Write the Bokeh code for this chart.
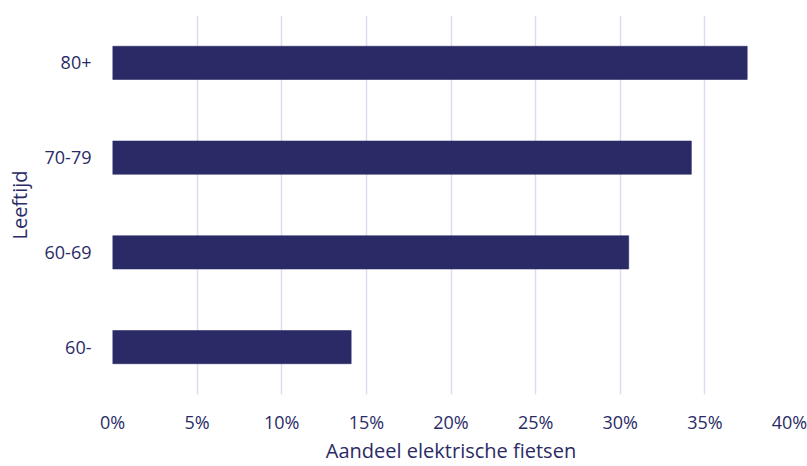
from bokeh.plotting import figure
from bokeh.models import ColumnDataSource, FixedTicker, PrintfTickFormatter, Range1d
from bokeh.embed import file_html
from bokeh.resources import INLINE

# Share of electric bicycles per age group (percent)
age_groups = ["60-", "60-69", "70-79", "80+"]
share_pct = [14.1, 30.5, 34.2, 37.5]
x_ticks = [0, 5, 10, 15, 20, 25, 30, 35, 40]
x_title = "Aandeel elektrische fietsen"
y_title = "Leeftijd"

NAVY = "#2A2B66"
GRID = "#DCDCF0"
FONT = "Open Sans"

source = ColumnDataSource(data=dict(age=age_groups, share=share_pct))

p = figure(
    y_range=age_groups,
    x_range=Range1d(0, 40),
    width=807, height=466,
    output_backend="svg",
    toolbar_location=None,
    min_border_left=112, min_border_right=18,
    min_border_top=15, min_border_bottom=69,
)
p.y_range.range_padding = 0

p.hbar(y="age", right="share", left=0, height=0.35, source=source,
       fill_color=NAVY, line_color=NAVY, line_width=1, line_alpha=0.6)

p.outline_line_color = None
p.background_fill_color = "white"
p.border_fill_color = "white"

# vertical grid only
p.ygrid.grid_line_color = None
p.xgrid.grid_line_color = GRID
p.xgrid.grid_line_width = 1.5
p.xaxis.ticker = FixedTicker(ticks=x_ticks)
p.xaxis.formatter = PrintfTickFormatter(format="%d%%")

for ax in (p.xaxis, p.yaxis):
    ax.axis_line_color = None
    ax.major_tick_line_color = None
    ax.minor_tick_line_color = None
    ax.major_tick_out = 0
    ax.major_tick_in = 0
    ax.minor_tick_out = 0
    ax.major_label_text_color = NAVY
    ax.major_label_text_font = FONT
    ax.major_label_text_font_size = "18px"
    ax.axis_label_text_color = NAVY
    ax.axis_label_text_font = FONT
    ax.axis_label_text_font_size = "20px"
    ax.axis_label_text_font_style = "normal"

p.xaxis.major_label_standoff = 15
p.xaxis.axis_label = x_title
p.xaxis.axis_label_standoff = 0
p.yaxis.major_label_standoff = 21
p.yaxis.axis_label = y_title
p.yaxis.axis_label_standoff = 9

open("out.html", "w").write(file_html(p, INLINE))
